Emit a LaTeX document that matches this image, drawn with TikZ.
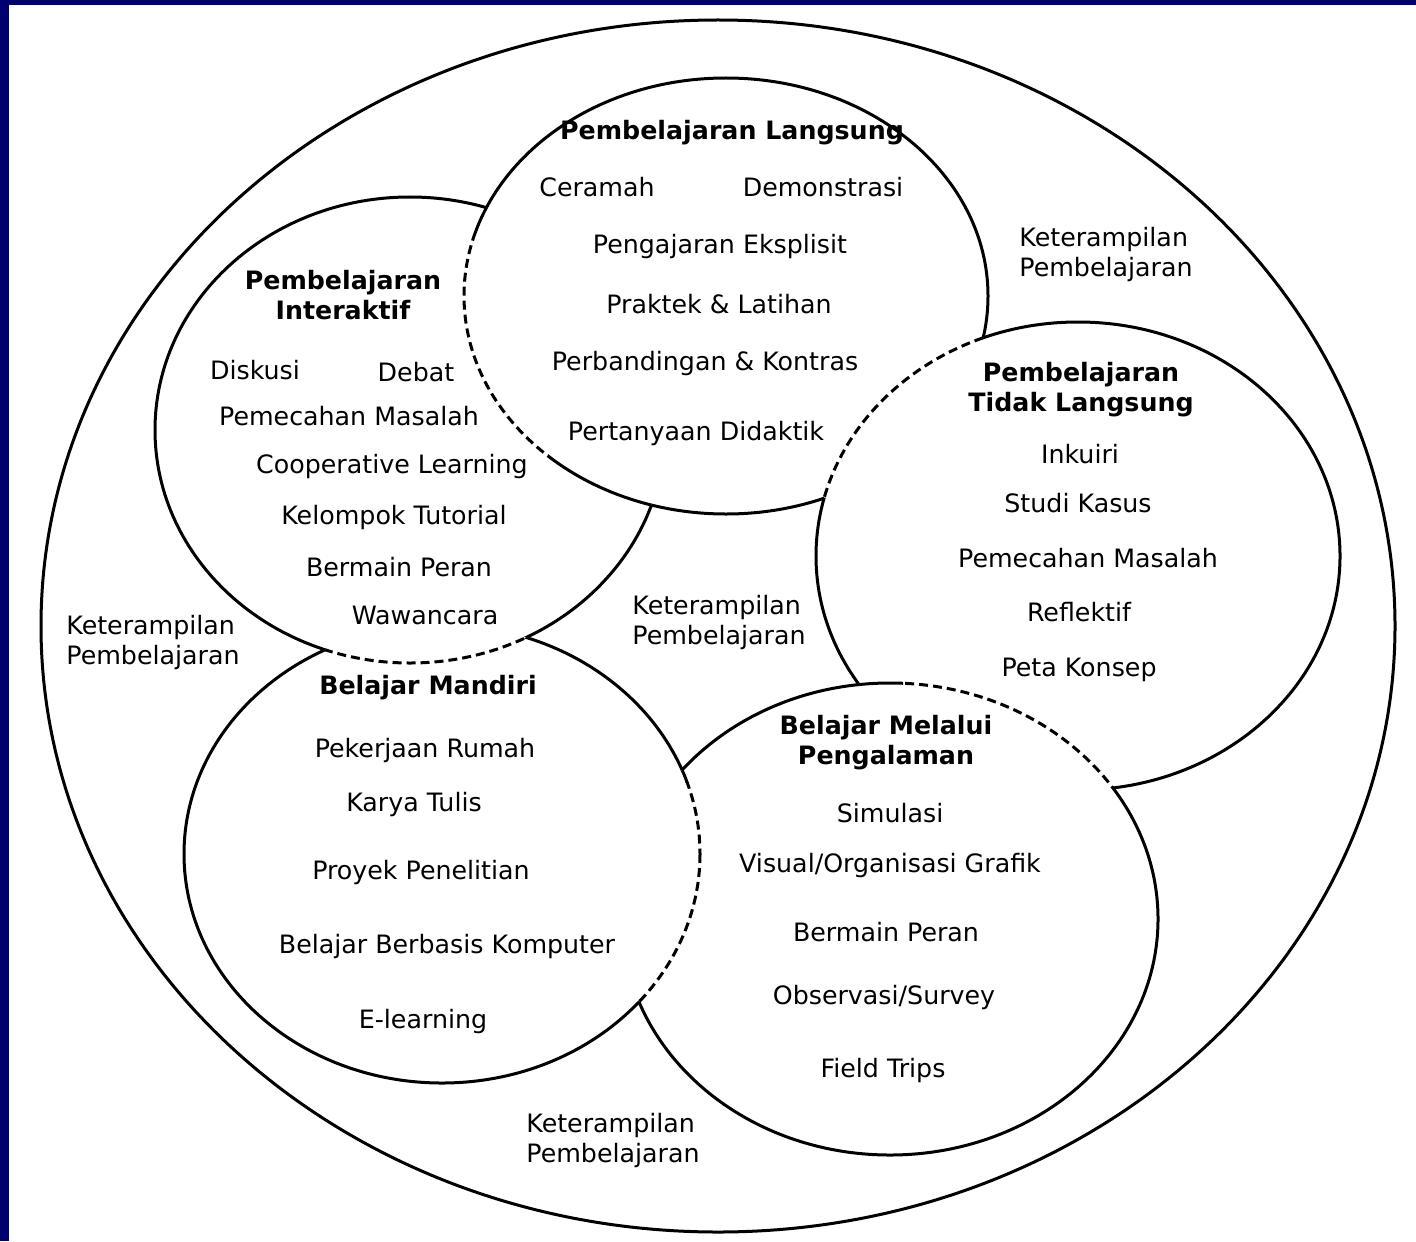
\documentclass[tikz,border=0pt]{standalone}
\usepackage{fontspec}
\setmainfont{DejaVu Sans}
\definecolor{navy}{RGB}{0,0,110}
\newcommand\drawell[5]{\draw[#5] (#1,#2) ellipse [x radius=#3, y radius=#4];}
\newcommand\clipin[4]{\clip (#1,#2) ellipse [x radius=#3, y radius=#4];}
\newcommand\clipout[4]{\clip (-10,-10) -- (1430,-10) -- (1430,1260) -- (-10,1260) -- cycle ({#1+#3},#2) arc[start angle=0, end angle=-360, x radius=#3, y radius=#4];}
\begin{document}
\begin{tikzpicture}[x=0.5pt,y=-0.5pt,
  ln/.style={line width=1.5pt, black},
  dsh/.style={ln, dash pattern=on 4.5pt off 2.5pt},
  txt/.style={font=\fontsize{12.65}{15}\selectfont, inner sep=0pt, text=black},
  ttl/.style={font=\fontsize{12.65}{15}\selectfont\bfseries, inner sep=0pt, text=black, align=center},
  kp/.style={txt, align=left, anchor=west}]
\fill[navy] (0,0) rectangle (1416,1241);
\useasboundingbox (0,0) rectangle (1416,1241);
\fill[white] (9,5) rectangle (1416,1241);
% outer ellipse
\drawell{718}{626}{677}{606}{ln}
% L = Langsung: dashed in I (except near the junctions), hidden in T
\begin{scope}[even odd rule]\clipout{410}{430}{255}{233}\clipout{1078}{556}{262}{234}\drawell{726}{296}{262}{218}{ln}\end{scope}
\begin{scope}\clipin{410}{430}{255}{233}\clip (440,150) rectangle (500,240) (548,440) rectangle (700,560);\drawell{726}{296}{262}{218}{ln}\end{scope}
\begin{scope}[even odd rule]\clipin{410}{430}{255}{233}\clip (-10,-10) rectangle (1430,1260) (440,150) rectangle (500,240) (548,440) rectangle (700,560);\drawell{726}{296}{262}{218}{dsh}\end{scope}
% I = Interaktif: dashed in M, hidden in L
\begin{scope}[even odd rule]\clipout{442}{854}{258}{229}\clipout{726}{296}{262}{218}\drawell{410}{430}{255}{233}{ln}\end{scope}
\begin{scope}\clipin{442}{854}{258}{229}\drawell{410}{430}{255}{233}{dsh}\end{scope}
% M = Mandiri: dashed in P, hidden in I
\begin{scope}[even odd rule]\clipout{890}{919}{268}{236}\clipout{410}{430}{255}{233}\drawell{442}{854}{258}{229}{ln}\end{scope}
\begin{scope}\clipin{890}{919}{268}{236}\clip (670,745) rectangle (715,782);\drawell{442}{854}{258}{229}{ln}\end{scope}
\begin{scope}[even odd rule]\clipin{890}{919}{268}{236}\clip (-10,-10) rectangle (1430,1260) (670,745) rectangle (715,782);\drawell{442}{854}{258}{229}{dsh}\end{scope}
% P = Pengalaman: dashed in T, hidden in M
\begin{scope}[even odd rule]\clipout{1078}{556}{262}{234}\clipout{442}{854}{258}{229}\drawell{890}{919}{268}{236}{ln}\end{scope}
\begin{scope}\clipin{1078}{556}{262}{234}\clip (840,660) rectangle (903,720);\drawell{890}{919}{268}{236}{ln}\end{scope}
\begin{scope}[even odd rule]\clipin{1078}{556}{262}{234}\clip (-10,-10) rectangle (1430,1260) (840,660) rectangle (903,720);\drawell{890}{919}{268}{236}{dsh}\end{scope}
% T = Tidak Langsung: dashed in L, hidden in P
\begin{scope}[even odd rule]\clipout{726}{296}{262}{218}\clipout{890}{919}{268}{236}\drawell{1078}{556}{262}{234}{ln}\end{scope}
\begin{scope}\clipin{726}{296}{262}{218}\drawell{1078}{556}{262}{234}{dsh}\end{scope}
% Langsung texts
\node[ttl] (lt) at (732,133) {Pembelajaran Langsung};
\node[txt] (l1) at (597,187) {Ceramah};
\node[txt] (l2) at (823,187) {Demonstrasi};
\node[txt] (l3) at (720,247) {Pengajaran Eksplisit};
\node[txt] (l4) at (719,304) {Praktek \& Latihan};
\node[txt] (l5) at (705,364) {Perbandingan \& Kontras};
\node[txt] (l6) at (696,434) {Pertanyaan Didaktik};
% Interaktif texts
\node[ttl] (it) at (343,295) {Pembelajaran\\Interaktif};
\node[txt] (i1) at (255,370) {Diskusi};
\node[txt] (i2) at (416,372) {Debat};
\node[txt] (i3) at (349,416) {Pemecahan Masalah};
\node[txt] (i4) at (392,467) {Cooperative Learning};
\node[txt] (i5) at (394,518) {Kelompok Tutorial};
\node[txt] (i6) at (399,567) {Bermain Peran};
\node[txt] (i7) at (425,615) {Wawancara};
% Tidak Langsung texts
\node[ttl] (tt) at (1081,390) {Pembelajaran\\Tidak Langsung};
\node[txt] (t1) at (1080,454) {Inkuiri};
\node[txt] (t2) at (1078,503) {Studi Kasus};
\node[txt] (t3) at (1088,558) {Pemecahan Masalah};
\node[txt] (t4) at (1079,612) {Reflektif};
\node[txt] (t5) at (1079,670) {Peta Konsep};
% Mandiri texts
\node[ttl] (mt) at (428,688) {Belajar Mandiri};
\node[txt] (m1) at (425,751) {Pekerjaan Rumah};
\node[txt] (m2) at (414,805) {Karya Tulis};
\node[txt] (m3) at (421,873) {Proyek Penelitian};
\node[txt] (m4) at (447,947) {Belajar Berbasis Komputer};
\node[txt] (m5) at (423,1022) {E-learning};
% Pengalaman texts
\node[ttl] (pt) at (886,743) {Belajar Melalui\\Pengalaman};
\node[txt] (p1) at (890,813) {Simulasi};
\node[txt] (p2) at (890,866) {Visual/Organisasi Grafik};
\node[txt] (p3) at (886,932) {Bermain Peran};
\node[txt] (p4) at (884,998) {Observasi/Survey};
\node[txt] (p5) at (883,1071) {Field Trips};
% Keterampilan Pembelajaran
\node[kp] (k1) at (1019,255) {Keterampilan\\Pembelajaran};
\node[kp] (k2) at (632,623) {Keterampilan\\Pembelajaran};
\node[kp] (k3) at (66,643) {Keterampilan\\Pembelajaran};
\node[kp] (k4) at (526,1141) {Keterampilan\\Pembelajaran};
\end{tikzpicture}
\end{document}
